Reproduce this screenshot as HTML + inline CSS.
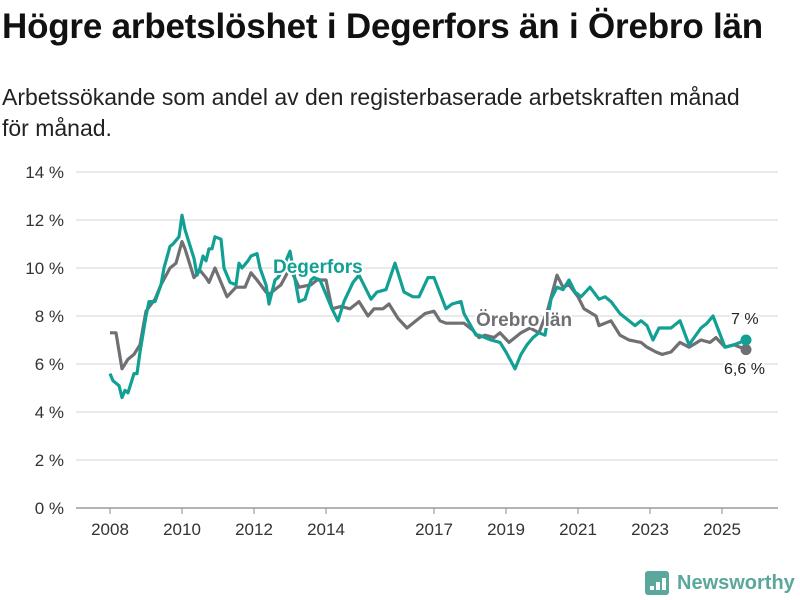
<!DOCTYPE html>
<html><head><meta charset="utf-8"><style>
body{margin:0;background:#fff;font-family:"Liberation Sans","DejaVu Sans",sans-serif;}
#w{position:relative;width:800px;height:600px;overflow:hidden;}
h1{position:absolute;left:2px;top:7px;margin:0;font-size:35px;font-weight:bold;color:#111;letter-spacing:-0.2px;white-space:nowrap;}
p{position:absolute;left:2px;top:82px;margin:0;font-size:23px;line-height:31px;color:#222;width:795px;}
svg{position:absolute;left:0;top:0;}
</style></head><body><div id="w">
<h1>Högre arbetslöshet i Degerfors än i Örebro län</h1>
<p>Arbetssökande som andel av den registerbaserade arbetskraften månad<br>för månad.</p>
<svg id="s" width="800" height="600"></svg>
</div>
<script>
const yTicks=[0,2,4,6,8,10,12,14];
const xTickYears=[2008,2010,2012,2014,2017,2019,2021,2023,2025];
const degMonths=[0,1,3,4,5,6,8,9,10,12,13,15,17,18,20,21,23,24,25,26,28,29,30,31,32,33,34,35,37,38,40,42,43,44,46,47,49,50,52,53,55,56,57,60,62,63,65,67,68,70,74,76,78,81,83,87,89,92,95,98,101,103,106,108,112,114,117,118,122,123,127,130,132,135,137,139,141,143,145,147,149,151,153,155,157,160,163,165,167,170,173,175,177,179,181,183,187,190,193,197,199,201,205,208,212];
const degValues=[5.6,5.3,5.1,4.6,4.9,4.8,5.6,5.6,6.5,8.0,8.6,8.6,9.3,10.0,10.9,11.0,11.3,12.2,11.6,11.2,10.4,9.7,10.0,10.5,10.3,10.8,10.8,11.3,11.2,10.0,9.4,9.3,10.2,10.0,10.3,10.5,10.6,10.0,9.3,8.5,9.5,9.6,9.8,10.7,9.3,8.6,8.7,9.5,9.6,9.5,8.3,7.8,8.6,9.4,9.7,8.7,9.0,9.1,10.2,9.0,8.8,8.8,9.6,9.6,8.3,8.5,8.6,8.1,7.2,7.2,7.0,6.9,6.5,5.8,6.4,6.8,7.1,7.3,7.2,8.7,9.2,9.1,9.5,9.0,8.8,9.2,8.7,8.8,8.6,8.1,7.8,7.6,7.8,7.6,7.0,7.5,7.5,7.8,6.8,7.5,7.7,8.0,6.7,6.8,7.0];
const orbMonths=[0,2,4,6,8,10,12,15,17,20,22,24,25,28,30,32,33,35,37,39,42,45,47,49,52,53,57,60,63,67,69,72,74,77,80,83,86,88,91,93,96,99,102,105,108,110,112,115,118,121,123,125,128,130,133,137,140,143,146,149,151,153,156,158,162,163,167,170,173,177,179,182,184,187,190,193,197,200,202,205,208,212];
const orbValues=[7.3,7.3,5.8,6.2,6.4,6.8,8.2,8.7,9.3,10.0,10.2,11.1,10.8,9.6,9.9,9.6,9.4,10.0,9.4,8.8,9.2,9.2,9.8,9.5,9.0,8.9,9.3,10.0,9.2,9.3,9.5,9.5,8.3,8.4,8.3,8.6,8.0,8.3,8.3,8.5,7.9,7.5,7.8,8.1,8.2,7.8,7.7,7.7,7.7,7.4,7.1,7.2,7.1,7.3,6.9,7.3,7.5,7.3,8.3,9.7,9.2,9.3,8.8,8.3,8.0,7.6,7.8,7.2,7.0,6.9,6.7,6.5,6.4,6.5,6.9,6.7,7.0,6.9,7.1,6.7,6.8,6.6];
const NS="http://www.w3.org/2000/svg";
const svg=document.getElementById('s');
const X0=110,Y0=508;
const xM=m=>X0+m*3;
const xYear=yr=>X0+(yr-2008)*36;
const yV=v=>Y0-v*24;
function el(t,a,txt){const e=document.createElementNS(NS,t);for(const k in a)e.setAttribute(k,a[k]);if(txt!=null)e.textContent=txt;svg.appendChild(e);return e;}
yTicks.forEach(v=>{
 const g=el('line',{x1:76,x2:778,y1:yV(v),y2:yV(v),stroke:v===0?'#888':'#ddd','stroke-width':1.2});
 
 
 const t=el('text',{x:64,y:yV(v)+6,'text-anchor':'end','font-size':17,fill:'#333'},v+' %');
 
 
});
xTickYears.forEach(yr=>{
 const l=el('line',{x1:xYear(yr),x2:xYear(yr),y1:Y0,y2:Y0+6,stroke:'#888'});
 
 
 const t=el('text',{x:xYear(yr),y:Y0+27,'text-anchor':'middle','font-size':17,fill:'#333'},String(yr));
 
 
});
function line(ms,vs,c,name){
 const d=ms.map((m,i)=>(i?'L':'M')+xM(m)+','+yV(vs[i])).join('');
 const p=el('path',{d:d,fill:'none',stroke:c,'stroke-width':3.2,'stroke-linejoin':'round'});
 
 
 const n=ms.length-1;
 const dot=el('circle',{cx:xM(ms[n]),cy:yV(vs[n]),r:5.5,fill:c});
 
 
}
line(orbMonths,orbValues,'#706f73','orebro-line');
line(degMonths,degValues,'#12a095','degerfors-line');
function lbl(x,y,txt,c,name,sz,w){
 const t=el('text',{x:x,y:y,'font-size':sz,'font-weight':w,fill:c,stroke:'#fff','stroke-width':4,'paint-order':'stroke'},txt);
 
 
}
lbl(273,273,'Degerfors','#12a095','degerfors-label',19,'bold');
lbl(476,326,'Örebro län','#706f73','orebro-label',19,'bold');
lbl(731,324,'7 %','#222','degerfors-end-value',16,'normal');
lbl(724,374,'6,6 %','#222','orebro-end-value',16,'normal');
const lg=el('rect',{x:645,y:571,width:24,height:24,rx:3,fill:'#5aa89c'});


[[650,4],[656,8],[662,12]].forEach(([x,h])=>{const b=el('rect',{x:x,y:590-h,width:4,height:h,fill:'#fff'});});
const lt=el('text',{x:677,y:589,'font-size':20,'font-weight':'bold',fill:'#5aa89c'},'Newsworthy');


</script></body></html>
